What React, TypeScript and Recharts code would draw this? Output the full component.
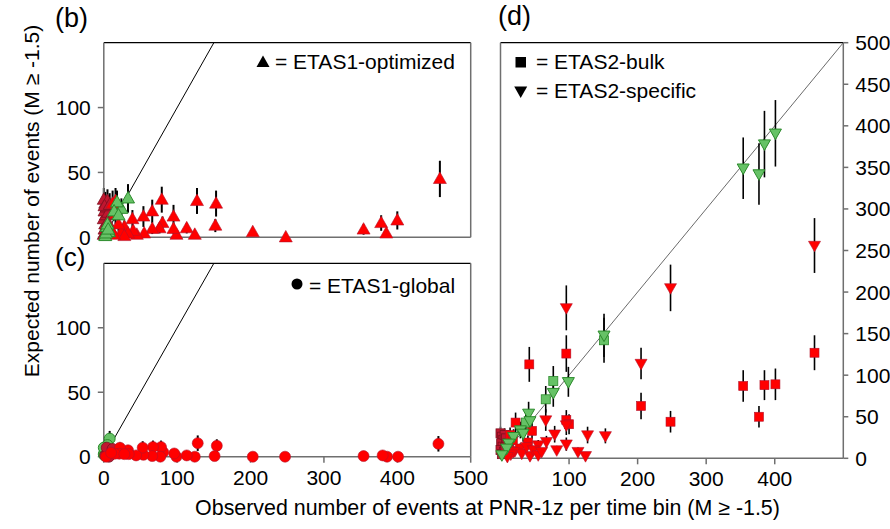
import React from 'react';
import { ScatterChart, Scatter, XAxis, YAxis, ErrorBar, ReferenceLine } from 'recharts';

const FONT = '"Liberation Sans", Arial, Helvetica, sans-serif';

// ---------- data ----------
const xTicks = [0, 100, 200, 300, 400, 500];
const xTicksD = [100, 200, 300, 400];
const yTicksBC = [0, 50, 100];
const yTicksD = [0, 50, 100, 150, 200, 250, 300, 350, 400, 450, 500];
const identityBC = [{ x: 0, y: 0 }, { x: 150, y: 150 }];
const identityD = [{ x: 0, y: 0 }, { x: 500, y: 500 }];

// (b) ETAS1-optimized  {observed x, expected y, error e}
const bDense = [
  { x: 0, y: 2, e: 2 }, { x: 1, y: 6, e: 4 }, { x: 2, y: 10, e: 5 }, { x: 0, y: 14, e: 6 },
  { x: 3, y: 17, e: 7 }, { x: 1, y: 20, e: 7 }, { x: 4, y: 23, e: 8 }, { x: 2, y: 26, e: 9 },
  { x: 0, y: 29, e: 9 }, { x: 5, y: 28, e: 9 }, { x: 6, y: 19, e: 7 }, { x: 5, y: 12, e: 6 },
  { x: 3, y: 4, e: 3 }, { x: 7, y: 8, e: 5 }, { x: 1, y: 24, e: 8 }, { x: 8, y: 25, e: 9 },
];
const bRed = [
  { x: 458, y: 45, e: 14 }, { x: 400, y: 13, e: 7 }, { x: 378, y: 11, e: 6 }, { x: 385, y: 3, e: 3 },
  { x: 354, y: 6, e: 4 }, { x: 248, y: 0, e: 0 }, { x: 203, y: 4, e: 2 }, { x: 153, y: 26, e: 10 },
  { x: 152, y: 9, e: 5 }, { x: 127, y: 28, e: 10 }, { x: 124, y: 2, e: 2 }, { x: 113, y: 7, e: 4 },
  { x: 95, y: 16, e: 9 }, { x: 99, y: 2, e: 2 }, { x: 95, y: 6.5, e: 4 }, { x: 79, y: 29, e: 10 },
  { x: 80, y: 11, e: 5 }, { x: 76, y: 7, e: 4 }, { x: 66, y: 20, e: 9 }, { x: 66, y: 6.5, e: 4 },
  { x: 54, y: 16, e: 8 }, { x: 55, y: 3, e: 3 }, { x: 39, y: 14, e: 7 }, { x: 45, y: 2, e: 2 },
  { x: 40, y: 5, e: 4 }, { x: 28, y: 8, e: 5 }, { x: 33, y: 3, e: 3 }, { x: 24, y: 4, e: 3 },
  { x: 28, y: 1, e: 1 }, { x: 16, y: 18, e: 8 }, { x: 16, y: 28, e: 10 }, { x: 12, y: 26, e: 10 },
  { x: 20, y: 10, e: 5 }, { x: 10, y: 6, e: 4 }, { x: 14, y: 2, e: 2 },
];
const bGreen = [
  { x: 33, y: 30, e: 11 }, { x: 24, y: 22, e: 8 }, { x: 18, y: 27, e: 9 }, { x: 14, y: 20, e: 7 },
  { x: 20, y: 17, e: 7 }, { x: 7, y: 4, e: 3 }, { x: 4, y: 8, e: 5 }, { x: 2, y: 1, e: 1 },
  { x: 5, y: 10, e: 5 }, { x: 3, y: 3, e: 3 }, { x: 6, y: 6, e: 4 },
];

// (c) ETAS1-global
const cGreen = [
  { x: 8, y: 14, e: 6 }, { x: 5, y: 9, e: 5 }, { x: 2, y: 4, e: 3 }, { x: 0, y: 2, e: 2 },
  { x: 3, y: 6, e: 4 }, { x: 1, y: 1, e: 1 }, { x: 0, y: 7, e: 4 },
];
const cDense = [
  { x: 2, y: 1, e: 1 }, { x: 5, y: 3, e: 2 }, { x: 8, y: 5, e: 3 }, { x: 4, y: 7, e: 4 },
  { x: 10, y: 2, e: 2 }, { x: 7, y: 0, e: 0 }, { x: 12, y: 6, e: 4 },
];
const cRed = [
  { x: 456, y: 10, e: 6 }, { x: 401, y: 0, e: 0 }, { x: 386, y: 0, e: 0 }, { x: 380, y: 1, e: 1 },
  { x: 354, y: 0.5, e: 0 }, { x: 247, y: 0, e: 0 }, { x: 203, y: 0, e: 0 }, { x: 154, y: 8.5, e: 5 },
  { x: 151, y: 0.5, e: 0 }, { x: 128, y: 10.5, e: 6 }, { x: 124, y: 0, e: 0 }, { x: 113, y: 1, e: 1 },
  { x: 99, y: 0, e: 0 }, { x: 96, y: 2.5, e: 2 }, { x: 81, y: 3.5, e: 2 }, { x: 78, y: 7.5, e: 5 },
  { x: 77, y: 0, e: 0 }, { x: 67, y: 7.5, e: 5 }, { x: 66, y: 0.5, e: 0 }, { x: 54, y: 1.5, e: 1 },
  { x: 53, y: 7, e: 5 }, { x: 44, y: 1, e: 1 }, { x: 33, y: 5, e: 4 }, { x: 34, y: 2, e: 2 },
  { x: 22, y: 7, e: 4 }, { x: 21, y: 2.3, e: 2 }, { x: 15, y: 2.3, e: 2 }, { x: 3, y: 0, e: 0 },
  { x: 10, y: 3, e: 3 }, { x: 28, y: 2, e: 2 },
];

// (d) ETAS2-bulk (squares) and ETAS2-specific (down triangles)
const dDenseSq = [
  { x: 0, y: 30, e: 8 }, { x: 2, y: 26, e: 8 }, { x: 4, y: 22, e: 7 }, { x: 1, y: 18, e: 7 },
  { x: 6, y: 28, e: 8 }, { x: 3, y: 14, e: 6 }, { x: 8, y: 24, e: 8 }, { x: 0, y: 10, e: 5 },
  { x: 5, y: 8, e: 5 }, { x: 10, y: 18, e: 7 }, { x: 2, y: 5, e: 4 }, { x: 7, y: 13, e: 6 },
];
const dRedSq = [
  { x: 458, y: 127, e: 21 }, { x: 354, y: 87, e: 19 }, { x: 385, y: 88, e: 18 }, { x: 401, y: 89, e: 19 },
  { x: 377, y: 50, e: 13 }, { x: 205, y: 63, e: 16 }, { x: 248, y: 44, e: 13 }, { x: 42, y: 113, e: 21 },
  { x: 96, y: 126, e: 22 }, { x: 96, y: 46, e: 12 }, { x: 100, y: 41, e: 12 }, { x: 22, y: 43, e: 12 },
  { x: 46, y: 33, e: 10 }, { x: 40, y: 19, e: 8 }, { x: 14, y: 28, e: 9 }, { x: 18, y: 22, e: 8 },
  { x: 12, y: 10, e: 5 },
];
const dRedTri = [
  { x: 458, y: 256, e: 33 }, { x: 248, y: 205, e: 28 }, { x: 205, y: 114, e: 19 }, { x: 96, y: 181, e: 27 },
  { x: 66, y: 46, e: 13 }, { x: 79, y: 29, e: 10 }, { x: 96, y: 40, e: 12 }, { x: 96, y: 17, e: 8 },
  { x: 127, y: 28, e: 10 }, { x: 153, y: 27, e: 9 }, { x: 113, y: 8, e: 5 }, { x: 124, y: 3, e: 3 },
  { x: 82, y: 10, e: 5 }, { x: 67, y: 20, e: 7 }, { x: 55, y: 16, e: 6 }, { x: 43, y: 3, e: 3 },
  { x: 21, y: 9, e: 5 }, { x: 29, y: 12, e: 6 }, { x: 31, y: 6, e: 4 }, { x: 38, y: 14, e: 6 },
  { x: 48, y: 10, e: 5 }, { x: 55, y: 4, e: 3 }, { x: 19, y: 8, e: 4 }, { x: 15, y: 5, e: 4 },
  { x: 10, y: 2, e: 2 }, { x: 60, y: 8, e: 4 },
];
const dGreenSq = [
  { x: 151, y: 142, e: 27 }, { x: 77, y: 93, e: 18 }, { x: 66, y: 71, e: 16 }, { x: 37, y: 43, e: 12 },
];
const dGreenTri = [
  { x: 354, y: 349, e: 37 }, { x: 377, y: 342, e: 37 }, { x: 385, y: 378, e: 40 }, { x: 401, y: 391, e: 40 },
  { x: 151, y: 148, e: 26 }, { x: 99, y: 92, e: 18 }, { x: 77, y: 79, e: 17 }, { x: 41, y: 54, e: 14 },
  { x: 43, y: 45, e: 12 }, { x: 29, y: 34, e: 10 }, { x: 33, y: 30, e: 10 }, { x: 19, y: 26, e: 9 },
  { x: 12, y: 18, e: 7 }, { x: 9, y: 12, e: 6 }, { x: 2, y: 4, e: 3 },
];

// ---------- styles ----------
const AXIS = '#6f6f6f';
const RED = '#ff0000';
const RED_S = '#b3122a';
const DENSE = '#c0162f';
const DENSE_S = '#7d0f1f';
const GREEN = '#66c266';
const GREEN_S = '#2b8a2b';

const makeShape = (kind: string, fill: string, stroke: string, size: number, sw = 0.6) => (props: any) => {
  const { cx, cy } = props;
  if (cx == null || cy == null || isNaN(cx) || isNaN(cy)) return <g />;
  const s = size;
  const h = s * 0.88;
  if (kind === 'up') {
    return (
      <polygon
        points={`${cx},${cy - h * 0.6} ${cx - s / 2},${cy + h * 0.4} ${cx + s / 2},${cy + h * 0.4}`}
        fill={fill} stroke={stroke} strokeWidth={sw} strokeLinejoin="round"
      />
    );
  }
  if (kind === 'down') {
    return (
      <polygon
        points={`${cx},${cy + h * 0.6} ${cx - s / 2},${cy - h * 0.4} ${cx + s / 2},${cy - h * 0.4}`}
        fill={fill} stroke={stroke} strokeWidth={sw} strokeLinejoin="round"
      />
    );
  }
  if (kind === 'square') {
    return <rect x={cx - s / 2} y={cy - s / 2} width={s} height={s} fill={fill} stroke={stroke} strokeWidth={sw} />;
  }
  return <circle cx={cx} cy={cy} r={s / 2} fill={fill} stroke={stroke} strokeWidth={sw} />;
};

const tickStyle = { fill: '#000', fontSize: 21, fontFamily: FONT };

const series = (data: any[], shape: any, key: string, w = 2, yId = 'l') => (
  <Scatter key={key} yAxisId={yId} data={data} dataKey="y" shape={shape} isAnimationActive={false}>
    <ErrorBar dataKey="e" direction="y" width={0} stroke="#000" strokeWidth={w} />
  </Scatter>
);

function PanelB() {
  return (
    <ScatterChart width={480} height={250} margin={{ top: 42.7, right: 0.3, bottom: 2.7, left: 43.8 }}>
      <XAxis type="number" dataKey="x" domain={[0, 500]} ticks={xTicks} interval={0} tick={false}
        tickSize={6} height={10} stroke={AXIS} strokeWidth={1.5} />
      <YAxis yAxisId="l" type="number" dataKey="y" domain={[0, 150]} ticks={yTicksBC} interval={0}
        width={60} tickSize={6} tickMargin={7} stroke={AXIS} strokeWidth={1.5} tick={tickStyle} />
      <YAxis yAxisId="r" orientation="right" type="number" domain={[0, 150]} ticks={yTicksBC} interval={0}
        allowDataOverflow width={9} tickSize={6} tick={false} stroke={AXIS} strokeWidth={1.5} />
      <ReferenceLine yAxisId="l" y={150} stroke="#000" strokeWidth={1.3} />
      <ReferenceLine yAxisId="l" segment={identityBC} stroke="#000" strokeWidth={1} />
      {series(bDense, makeShape('up', DENSE, DENSE_S, 13, 0.8), 'bd')}
      {series(bRed, makeShape('up', RED, RED_S, 13), 'br')}
      {series(bGreen, makeShape('up', GREEN, GREEN_S, 13, 1), 'bg')}
    </ScatterChart>
  );
}

function PanelC() {
  return (
    <ScatterChart width={500} height={250} margin={{ top: 13.3, right: 20.3, bottom: 13.3, left: 43.8 }}>
      <XAxis type="number" dataKey="x" domain={[0, 500]} ticks={xTicks} interval={0} tick={tickStyle}
        tickSize={6} tickMargin={7} height={30} stroke={AXIS} strokeWidth={1.5} />
      <YAxis yAxisId="l" type="number" dataKey="y" domain={[0, 150]} ticks={yTicksBC} interval={0}
        width={60} tickSize={6} tickMargin={7} stroke={AXIS} strokeWidth={1.5} tick={tickStyle} />
      <YAxis yAxisId="r" orientation="right" type="number" domain={[0, 150]} ticks={yTicksBC} interval={0}
        allowDataOverflow width={9} tickSize={6} tick={false} stroke={AXIS} strokeWidth={1.5} />
      <ReferenceLine yAxisId="l" y={150} stroke="#000" strokeWidth={1.3} />
      <ReferenceLine yAxisId="l" segment={identityBC} stroke="#000" strokeWidth={1} />
      {series(cGreen, makeShape('circle', GREEN, GREEN_S, 11, 1), 'cg')}
      {series(cDense, makeShape('circle', DENSE, DENSE_S, 11, 0.8), 'cd')}
      {series(cRed, makeShape('circle', RED, RED_S, 11), 'cr')}
    </ScatterChart>
  );
}

function PanelD() {
  return (
    <ScatterChart width={420} height={500} margin={{ top: 42.7, right: 6.7, bottom: 11.7, left: 10.5 }}>
      <XAxis type="number" dataKey="x" domain={[0, 500]} ticks={xTicksD} interval={0} tick={tickStyle}
        tickSize={6} tickMargin={7} height={30} stroke={AXIS} strokeWidth={1.5} />
      <YAxis yAxisId="l" type="number" dataKey="y" domain={[0, 500]} ticks={yTicksD} interval={0}
        width={10} tickSize={5} tick={false} stroke={AXIS} strokeWidth={1.5} />
      <YAxis yAxisId="r" orientation="right" type="number" domain={[0, 500]} ticks={yTicksD} interval={0}
        allowDataOverflow width={50} tickSize={5} tickMargin={7} stroke={AXIS} strokeWidth={1.5} tick={tickStyle} />
      <ReferenceLine yAxisId="l" y={500} stroke="#000" strokeWidth={1.3} />
      <ReferenceLine yAxisId="l" segment={identityD} stroke="#444" strokeWidth={0.8} />
      {series(dDenseSq, makeShape('square', DENSE, DENSE_S, 9, 0.8), 'dds', 1.6)}
      {series(dRedSq, makeShape('square', RED, RED_S, 9), 'drs', 1.6)}
      {series(dRedTri, makeShape('down', RED, RED_S, 12), 'drt', 1.6)}
      {series(dGreenSq, makeShape('square', GREEN, GREEN_S, 9, 0.8), 'dgs', 1.6)}
      {series(dGreenTri, makeShape('down', GREEN, GREEN_S, 12, 1), 'dgt', 1.6)}
    </ScatterChart>
  );
}

export default function App() {
  return (
    <div style={{ position: 'absolute', left: 0, top: 0, width: 890, height: 529, overflow: 'hidden', background: '#fff', fontFamily: FONT }}>
      <div style={{ position: 'absolute', left: 0, top: 0 }}><PanelB /></div>
      <div style={{ position: 'absolute', left: 0, top: 250 }}><PanelC /></div>
      <div style={{ position: 'absolute', left: 480, top: 0 }}><PanelD /></div>
      <svg width={890} height={529} style={{ position: 'absolute', left: 0, top: 0, pointerEvents: 'none' }}
        fontFamily={FONT}>
        <text x={55} y={27} fontSize={27}>(b)</text>
        <text x={55} y={266} fontSize={26}>(c)</text>
        <text x={498} y={25} fontSize={27}>(d)</text>
        <text transform="translate(31,201) rotate(-90)" textAnchor="middle" dominantBaseline="central" fontSize={21}>
          Expected number of events (M ≥ -1.5)
        </text>
        <text x={487.5} y={515} textAnchor="middle" fontSize={21.4}>
          Observed number of events at PNR-1z per time bin (M ≥ -1.5)
        </text>
        {/* legends */}
        <polygon points="263,55.5 256.5,67 269.5,67" fill="#000" />
        <text x={275} y={69} fontSize={21}>= ETAS1-optimized</text>
        <circle cx={297} cy={284} r={5.5} fill="#000" />
        <text x={309} y={292.5} fontSize={21}>= ETAS1-global</text>
        <rect x={515.5} y={57} width={10.5} height={10.5} fill="#000" />
        <text x={536} y={68.5} fontSize={21}>= ETAS2-bulk</text>
        <polygon points="520.7,98 514.2,86.5 527.2,86.5" fill="#000" />
        <text x={536} y={98} fontSize={21}>= ETAS2-specific</text>
      </svg>
    </div>
  );
}
